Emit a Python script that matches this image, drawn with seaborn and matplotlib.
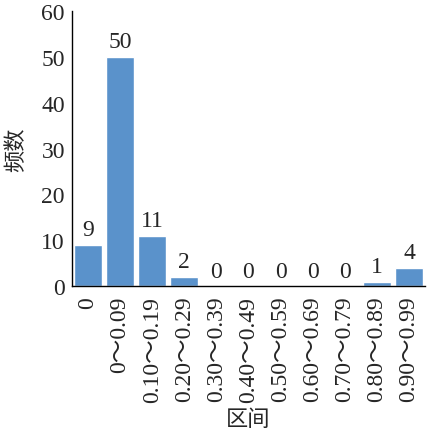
import matplotlib
matplotlib.use("Agg")
import matplotlib.pyplot as plt
import seaborn as sns
import pandas as pd

categories = ["0", "0～0.09", "0.10～0.19", "0.20～0.29", "0.30～0.39", "0.40～0.49",
              "0.50～0.59", "0.60～0.69", "0.70～0.79", "0.80～0.89", "0.90～0.99"]
counts = [9, 50, 11, 2, 0, 0, 0, 0, 0, 1, 4]
yticks = [0, 10, 20, 30, 40, 50, 60]

sns.set_style("white")
plt.rcParams['font.family'] = ['Liberation Serif', 'Noto Sans CJK SC']

df = pd.DataFrame({"区间": categories, "频数": counts})
fig = plt.figure(figsize=(4.28, 4.35), dpi=100)
ax = fig.add_axes([0.168, 0.340, 0.825, 0.632])
sns.barplot(data=df, x="区间", y="频数", color="#5A92CB", saturation=1, width=0.87, ax=ax)
for p, v in zip(ax.patches, counts):
    ax.text(p.get_x() + p.get_width() / 2, p.get_height() + 1.0, str(v),
            ha="center", va="bottom", fontsize=17)
ax.set_ylim(0, 60)
ax.set_xlim(-0.5, 10.5)
ax.set_yticks(yticks)
ax.tick_params(axis="y", direction="in", length=4, labelsize=17, pad=5)
ax.tick_params(axis="x", length=0, labelsize=17, pad=7)
plt.setp(ax.get_xticklabels(), rotation=90)
sns.despine(ax=ax)
for s in ["left", "bottom"]:
    ax.spines[s].set_color("black")
    ax.spines[s].set_linewidth(1.0)
ax.set_xlabel("区间", fontsize=16, family=["Noto Sans CJK SC"], fontweight="light", labelpad=4)
ax.set_ylabel("频数", fontsize=16, family=["Noto Sans CJK SC"], fontweight="light", labelpad=10)
fig.savefig("out.png", dpi=100)
